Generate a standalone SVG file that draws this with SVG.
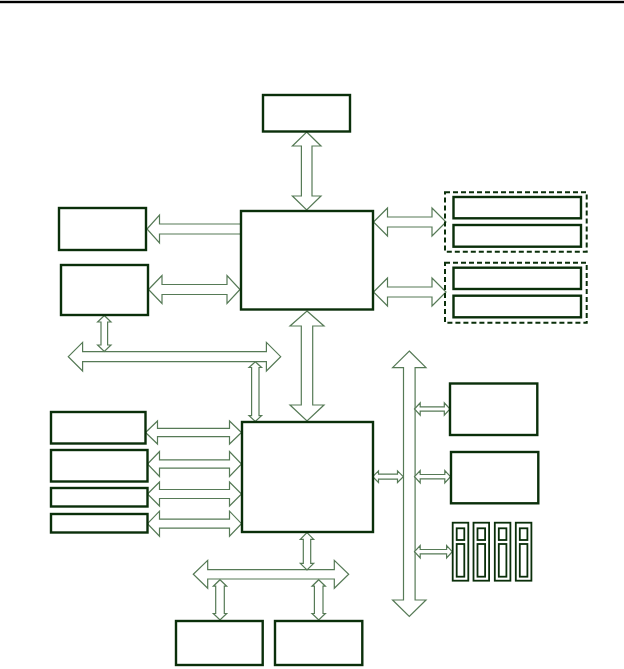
<svg xmlns="http://www.w3.org/2000/svg" width="624" height="669" viewBox="0 0 624 669">
<style>
.box{fill:#fff;stroke:#0a2f0a;stroke-width:2.4}
.dash{fill:none;stroke:#0a2f0a;stroke-width:2;stroke-dasharray:5 3}
.ar{fill:#fff;stroke:#567a56;stroke-width:1.2;stroke-linejoin:miter}
.slot{fill:#fff;stroke:#0a2f0a;stroke-width:1.8}
</style>
<rect x="0" y="0.8" width="624" height="2.4" fill="#000"/>
<g id="connectors">
<polygon class="ar" points="306.7,132 321,146 312,146 312,196 321,196 306.7,210 292.4,196 301.4,196 301.4,146 292.4,146"/>
<polygon class="ar" points="307,311 324,326 312.7,326 312.7,405 324,405 307,421 290,405 301.3,405 301.3,326 290,326"/>
<polygon class="ar" points="147,229 159.5,215 159.5,224 241,224 241,234 159.5,234 159.5,243"/>
<polygon class="ar" points="148.5,289.5 162,275.5 162,284.5 227,284.5 227,275.5 240,289.5 227,303.5 227,294.5 162,294.5 162,303.5"/>
<polygon class="ar" points="373.5,222 387.5,208 387.5,217 432,217 432,208 446,222 432,236 432,227 387.5,227 387.5,236"/>
<polygon class="ar" points="373.5,292 387.5,278 387.5,287 432,287 432,278 446,292 432,306 432,297 387.5,297 387.5,306"/>
<polygon class="ar" points="68.3,356.7 82.6,342.4 82.6,351.7 266.4,351.7 266.4,342.4 280.7,356.7 266.4,371 266.4,361.7 82.6,361.7 82.6,371"/>
<polygon class="ar" points="104.3,315.5 111,322 107.6,322 107.6,345 111,345 104.3,351.5 97.6,345 101,345 101,322 97.6,322"/>
<polygon class="ar" points="255.3,361.7 261.6,367.5 259,367.5 259,415.7 261.6,415.7 255.3,421.5 249,415.7 251.6,415.7 251.6,367.5 249,367.5"/>
<polygon class="ar" points="145.5,432.5 157.5,421 157.5,428.3 229.5,428.3 229.5,421 241.5,432.5 229.5,444 229.5,436.7 157.5,436.7 157.5,444"/>
<polygon class="ar" points="147.5,464 159.5,451.5 159.5,459.8 229.5,459.8 229.5,451.5 241.5,464 229.5,476.5 229.5,468.2 159.5,468.2 159.5,476.5"/>
<polygon class="ar" points="147.5,494 159.5,482 159.5,489.5 229.5,489.5 229.5,482 241.5,494 229.5,506 229.5,498.5 159.5,498.5 159.5,506"/>
<polygon class="ar" points="147.5,523.7 159.5,511.2 159.5,519.2 229.5,519.2 229.5,511.2 241.5,523.7 229.5,536.2 229.5,528.2 159.5,528.2 159.5,536.2"/>
<polygon class="ar" points="409.3,351 426,367.7 415.1,367.7 415.1,600 426,600 409.3,616.5 392.6,600 403.5,600 403.5,367.7 392.6,367.7"/>
<polygon class="ar" points="372.7,476.7 378.5,470.9 378.5,474.2 397.5,474.2 397.5,470.9 403.3,476.7 397.5,482.5 397.5,479.2 378.5,479.2 378.5,482.5"/>
<polygon class="ar" points="414.5,409 420.2,402.8 420.2,406.8 444.3,406.8 444.3,402.8 450,409 444.3,415.2 444.3,411.2 420.2,411.2 420.2,415.2"/>
<polygon class="ar" points="414.5,476.7 420.2,470.5 420.2,474.5 444.8,474.5 444.8,470.5 450.5,476.7 444.8,482.9 444.8,478.9 420.2,478.9 420.2,482.9"/>
<polygon class="ar" points="414.5,551.7 420.2,545.5 420.2,549.5 446.6,549.5 446.6,545.5 452.3,551.7 446.6,557.9 446.6,553.9 420.2,553.9 420.2,557.9"/>
<polygon class="ar" points="193.3,574.3 207.7,560.3 207.7,569.6 334.3,569.6 334.3,560.3 348.7,574.3 334.3,588.3 334.3,579 207.7,579 207.7,588.3"/>
<polygon class="ar" points="307,532.7 313.7,539.4 310.7,539.4 310.7,563.3 313.7,563.3 307,570 300.3,563.3 303.3,563.3 303.3,539.4 300.3,539.4"/>
<polygon class="ar" points="220,579.7 226.7,586.2 224.3,586.2 224.3,613.5 226.7,613.5 220,620 213.3,613.5 215.7,613.5 215.7,586.2 213.3,586.2"/>
<polygon class="ar" points="318.7,579.7 325.4,586.2 323,586.2 323,613.5 325.4,613.5 318.7,620 312,613.5 314.4,613.5 314.4,586.2 312,586.2"/>
</g>
<g id="top"><rect class="box" x="263" y="95" width="87" height="36.5"/></g>
<g id="northbridge"><rect class="box" x="241" y="211" width="132" height="98.5"/></g>
<g id="southbridge"><rect class="box" x="242" y="422" width="131" height="110"/></g>
<g id="left1"><rect class="box" x="59" y="208" width="87" height="42"/></g>
<g id="left2"><rect class="box" x="61" y="265" width="87" height="50"/></g>
<g id="left3"><rect class="box" x="51" y="412" width="94.5" height="31.5"/></g>
<g id="left4"><rect class="box" x="51" y="450" width="96.5" height="31.5"/></g>
<g id="left5"><rect class="box" x="51" y="488" width="96.5" height="18.5"/></g>
<g id="left6"><rect class="box" x="51" y="514" width="96.5" height="18.5"/></g>
<g id="group1">
<rect class="dash" x="445" y="192.3" width="141.7" height="59.4"/>
<rect class="box" x="453.5" y="197" width="127.5" height="21.3"/>
<rect class="box" x="453.5" y="225" width="127.5" height="21.7"/>
</g>
<g id="group2">
<rect class="dash" x="445" y="262.7" width="141.7" height="60"/>
<rect class="box" x="453.5" y="267.7" width="127.5" height="21.3"/>
<rect class="box" x="453.5" y="295.7" width="127.5" height="21.6"/>
</g>
<g id="right1"><rect class="box" x="450" y="383.5" width="87.3" height="51.5"/></g>
<g id="right2"><rect class="box" x="451" y="452" width="87.3" height="51.3"/></g>
<g id="slots">
<rect class="slot" x="452.7" y="522.7" width="15.6" height="58"/><rect class="slot" x="456.7" y="528.3" width="7.6" height="11.7"/><rect class="slot" x="456.7" y="544" width="7.6" height="32.7"/>
<rect class="slot" x="473.5" y="522.7" width="15.6" height="58"/><rect class="slot" x="477.5" y="528.3" width="7.6" height="11.7"/><rect class="slot" x="477.5" y="544" width="7.6" height="32.7"/>
<rect class="slot" x="494.8" y="522.7" width="15.6" height="58"/><rect class="slot" x="498.8" y="528.3" width="7.6" height="11.7"/><rect class="slot" x="498.8" y="544" width="7.6" height="32.7"/>
<rect class="slot" x="515.8" y="522.7" width="15.6" height="58"/><rect class="slot" x="519.8" y="528.3" width="7.6" height="11.7"/><rect class="slot" x="519.8" y="544" width="7.6" height="32.7"/>
</g>
<g id="bottom1"><rect class="box" x="176" y="621" width="86.7" height="44"/></g>
<g id="bottom2"><rect class="box" x="275" y="621" width="87.3" height="44"/></g>
</svg>
